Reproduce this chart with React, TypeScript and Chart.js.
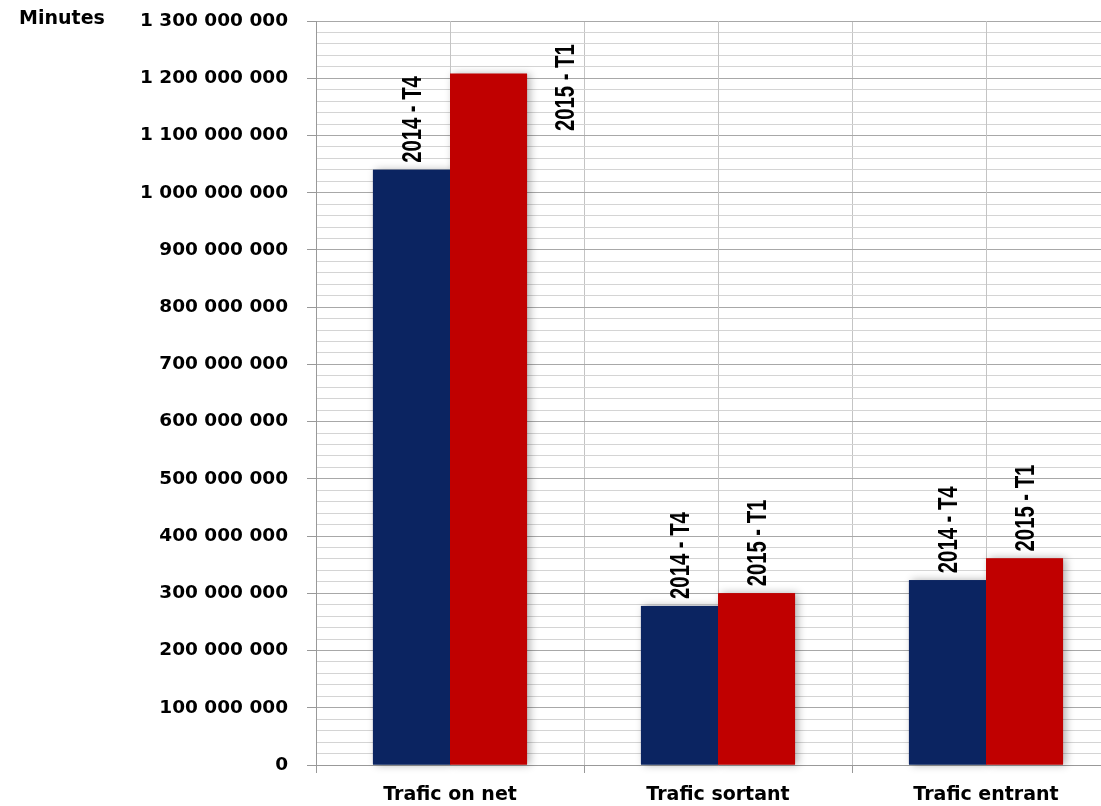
import React, { useEffect, useRef } from 'react';
import { Chart, registerables } from 'chart.js';

Chart.register(...registerables);

const categories = ['Trafic on net', 'Trafic sortant', 'Trafic entrant'];
const seriesNames = ['2014 - T4', '2015 - T1'];
const values2014T4 = [1040000000, 278000000, 323000000];
const values2015T1 = [1208000000, 300000000, 361000000];
const yMax = 1300000000;
const yMajorStep = 100000000;
const yMinorStep = 20000000;
const yTitle = 'Minutes';

const NAVY = '#0B2461';
const RED = '#C00000';

const fmt = (v: number) => Math.round(v).toString().replace(/\B(?=(\d{3})+(?!\d))/g, ' ');

const centerLines = {
  id: 'centerLines',
  beforeDatasetsDraw(chart: any) {
    const { ctx, chartArea } = chart;
    const xs = chart.scales.x;
    ctx.save();
    ctx.strokeStyle = '#c4c4c4';
    ctx.lineWidth = 1;
    for (let i = 0; i < categories.length; i++) {
      const x = Math.round(xs.getPixelForValue(i)) + 0.5;
      ctx.beginPath();
      ctx.moveTo(x, chartArea.top);
      ctx.lineTo(x, chartArea.bottom);
      ctx.stroke();
    }
    ctx.restore();
  },
};

// draws soft shadows behind every bar before the bars themselves are painted
const barShadow = {
  id: 'barShadow',
  beforeDatasetsDraw(chart: any) {
    const ctx = chart.ctx;
    ctx.save();
    ctx.shadowColor = 'rgba(0,0,0,0.3)';
    ctx.shadowBlur = 8;
    ctx.shadowOffsetX = 3;
    ctx.shadowOffsetY = 0;
    chart.data.datasets.forEach((ds: any, di: number) => {
      const meta = chart.getDatasetMeta(di);
      meta.data.forEach((bar: any) => {
        const p = bar.getProps(['x', 'y', 'width', 'base'], true);
        ctx.fillStyle = ds.backgroundColor;
        ctx.fillRect(p.x - p.width / 2, p.y, p.width, p.base - p.y);
      });
    });
    ctx.restore();
  },
};

const titleText = {
  id: 'titleText',
  afterDraw(chart: any) {
    const ctx = chart.ctx;
    ctx.save();
    ctx.font = 'bold 19px "DejaVu Sans", sans-serif';
    ctx.fillStyle = '#000';
    ctx.textAlign = 'center';
    ctx.textBaseline = 'middle';
    ctx.fillText(yTitle, 62, 19);
    ctx.restore();
  },
};

const barLabels = {
  id: 'barLabels',
  afterDatasetsDraw(chart: any) {
    const { ctx, chartArea } = chart;
    const size = 27;
    const squeeze = 0.75;
    const gap = 7;
    ctx.save();
    ctx.font = `bold ${size}px "Liberation Sans", Arial, sans-serif`;
    ctx.fillStyle = '#000';
    ctx.textAlign = 'left';
    ctx.textBaseline = 'alphabetic';
    const cap = size * 0.716;
    chart.data.datasets.forEach((ds: any, di: number) => {
      const meta = chart.getDatasetMeta(di);
      meta.data.forEach((bar: any) => {
        const text = ds.label;
        const len = ctx.measureText(text).width * squeeze;
        const props = bar.getProps(['x', 'y', 'width'], true);
        let cx = props.x;
        let bottom = props.y - gap;
        if (bottom - len < chartArea.top) {
          cx = props.x + props.width / 2 + 37;
          bottom = props.y + 14 + len / 2;
        }
        ctx.save();
        ctx.translate(cx, bottom);
        ctx.rotate(-Math.PI / 2);
        ctx.scale(squeeze, 1);
        ctx.fillText(text, 0, cap / 2);
        ctx.restore();
      });
    });
    ctx.restore();
  },
};

export default function App() {
  const canvasRef = useRef<HTMLCanvasElement | null>(null);

  useEffect(() => {
    if (!canvasRef.current) return;
    const chart = new Chart(canvasRef.current, {
      type: 'bar',
      data: {
        labels: categories,
        datasets: [
          {
            label: seriesNames[0],
            data: values2014T4,
            backgroundColor: NAVY,
            borderWidth: 0,
            barPercentage: 1,
            categoryPercentage: 0.575,
          },
          {
            label: seriesNames[1],
            data: values2015T1,
            backgroundColor: RED,
            borderWidth: 0,
            barPercentage: 1,
            categoryPercentage: 0.575,
          },
        ],
      },
      options: {
        animation: false,
        responsive: true,
        maintainAspectRatio: false,
        layout: { padding: { top: 21, left: 0, right: 10, bottom: 0 } },
        plugins: {
          legend: { display: false },
          tooltip: { enabled: false },
          title: { display: false },
        },
        scales: {
          x: {
            offset: true,
            grid: {
              offset: true,
              color: '#c4c4c4',
              tickColor: '#999',
              tickLength: 8,
            },
            border: { color: '#999' },
            ticks: {
              color: '#000',
              font: { family: '"DejaVu Sans", sans-serif', size: 19, weight: 'bold' },
              padding: 11,
              maxRotation: 0,
              autoSkip: false,
            },
            afterFit(scale: any) {
              scale.height = 41;
              scale.paddingLeft = 0;
              scale.paddingRight = 0;
            },
          },
          y: {
            min: 0,
            max: yMax,
            grid: {
              color: (c: any) => (Math.round(c.tick.value) % yMajorStep === 0 ? '#a8a8a8' : '#d4d4d4'),
              tickColor: (c: any) => (Math.round(c.tick.value) % yMajorStep === 0 ? '#999' : 'rgba(0,0,0,0)'),
              tickLength: 9,
            },
            border: { color: '#999' },
            ticks: {
              stepSize: yMinorStep,
              autoSkip: false,
              maxTicksLimit: 200,
              padding: 19,
              color: '#000',
              font: { family: '"DejaVu Sans", sans-serif', size: 18.5, weight: 'bold' },
              callback: (v: any) => (Math.round(Number(v)) % yMajorStep === 0 ? fmt(Number(v)) : ''),
            },
            afterFit(scale: any) {
              scale.width = 316;
              scale.paddingTop = 0;
              scale.paddingBottom = 0;
            },
          },
        },
      },
      plugins: [centerLines, barShadow, barLabels, titleText],
    });
    return () => chart.destroy();
  }, []);

  return (
    <div style={{ position: 'fixed', left: 0, top: 0, width: 1101, height: 806, overflow: 'hidden', background: '#fff' }}>
      <div style={{ position: 'relative', width: 1130, height: 806 }}>
        <canvas ref={canvasRef} />
      </div>
    </div>
  );
}
